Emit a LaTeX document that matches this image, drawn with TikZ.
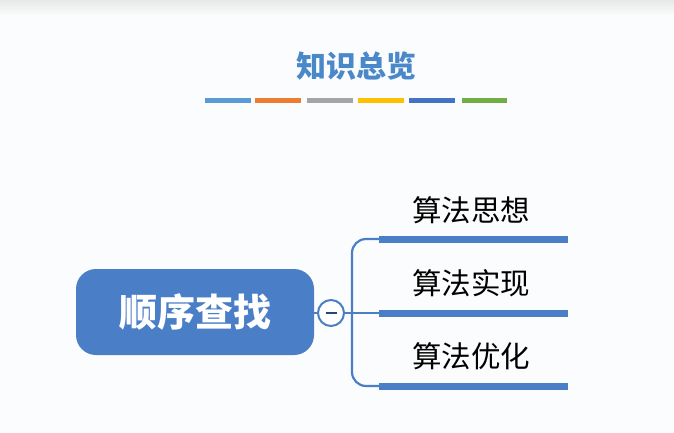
\documentclass[tikz,border=0pt]{standalone}
\usepackage{fontspec}
\newfontfamily\cjk{Noto Sans CJK SC}
\usetikzlibrary{shapes.geometric}
\definecolor{bg}{HTML}{FBFCFD}
\definecolor{titleblue}{HTML}{4A88CA}
\definecolor{mainblue}{HTML}{4A7FC8}
\definecolor{barblue}{HTML}{4A7FC8}
\definecolor{cA}{HTML}{5B9BD5}
\definecolor{cB}{HTML}{ED7D31}
\definecolor{cC}{HTML}{A5A5A5}
\definecolor{cD}{HTML}{FFC000}
\definecolor{cE}{HTML}{4472C4}
\definecolor{cF}{HTML}{70AD47}
\tikzset{
  colbar/.style={line width=5pt},
  branchbar/.style={line width=7pt, barblue},
  branchtext/.style={font=\cjk\fontsize{29.5}{31}\selectfont, text=black, inner sep=0pt},
  conn/.style={line width=2.2pt, barblue, rounded corners=14pt},
}
\begin{document}
\begin{tikzpicture}[x=1pt,y=-1pt]
\useasboundingbox (0,0) rectangle (674,433);
\fill[bg] (0,0) rectangle (674,433);
\shade[top color=black!9, bottom color=bg] (0,0) rectangle (674,16);
% title
\node[font=\cjk\bfseries\fontsize{30}{32}\selectfont, text=titleblue, inner sep=0pt] (title) at (356,66) {知识总览};
% colour bars
\draw[colbar, cA] (205,101) -- (251,101);
\draw[colbar, cB] (255,101) -- (301,101);
\draw[colbar, cC] (307,101) -- (353,101);
\draw[colbar, cD] (358,101) -- (404,101);
\draw[colbar, cE] (409,101) -- (455,101);
\draw[colbar, cF] (462,101) -- (507,101);
% main node
\node[fill=mainblue, rounded corners=20pt, minimum width=238pt, minimum height=86pt, inner sep=0pt,
      font=\cjk\bfseries\fontsize{38}{40}\selectfont, text=white] (main) at (195,312) {顺序查找};
% collapse circle
\node[circle, draw=barblue, line width=2pt, fill=white, minimum size=26pt, inner sep=0pt] (col) at (331,313) {};
\draw[line width=2pt, color=black!45!barblue] (325.5,313) -- (336.5,313);
\draw[line width=2.2pt, barblue] (main.east |- col.west) -- (col.west);
\coordinate (trunk) at (352,313);
\draw[line width=2.2pt, barblue] (col.east) -- (trunk);
% branches
\coordinate (b1s) at (379,239);
\coordinate (b1e) at (568,239);
\coordinate (b2s) at (379,313);
\coordinate (b2e) at (568,313);
\coordinate (b3s) at (379,386);
\coordinate (b3e) at (568,386);
\draw[conn] (trunk) |- (b1s);
\draw[conn] (trunk) |- (b3s);
\draw[line width=2.2pt, barblue] (trunk) -- (b2s);
\draw[branchbar] (b1s) -- (b1e);
\draw[branchbar] (b2s) -- (b2e);
\draw[branchbar] (b3s) -- (b3e);
\node[branchtext] (t1) at (471,210) {算法思想};
\node[branchtext] (t2) at (471,283) {算法实现};
\node[branchtext] (t3) at (471,356) {算法优化};
\end{tikzpicture}
\end{document}
